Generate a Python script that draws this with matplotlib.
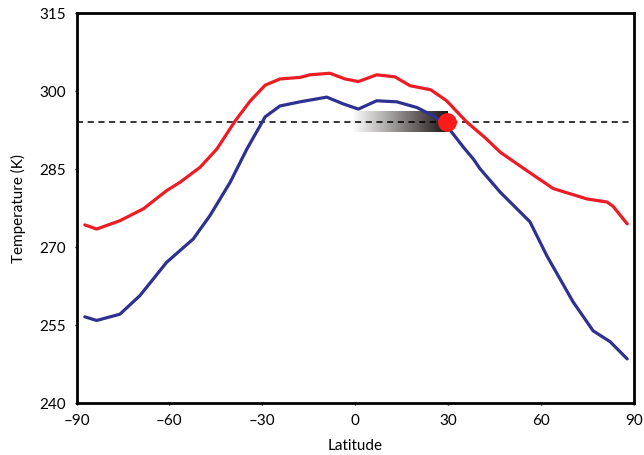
import numpy as np
import matplotlib
matplotlib.use("Agg")
import matplotlib.pyplot as plt
from matplotlib.colors import LinearSegmentedColormap

plt.rcParams['font.family'] = ['Lato', 'DejaVu Sans']

# warm curve (red)
red_lat = [-87.3, -83.5, -76.0, -68.4, -60.9, -56.6, -50.1, -44.7, -38.8, -34.0,
           -29.1, -24.3, -17.8, -14.6, -8.2, -3.3, 1.0, 6.9, 12.8, 17.7, 24.4,
           29.5, 36.0, 41.9, 46.8, 55.5, 63.9, 74.8, 81.3, 83.2, 87.8]
red_temp = [274.2, 273.4, 275.0, 277.3, 280.8, 282.4, 285.3, 288.8, 294.2, 298.0,
            301.1, 302.3, 302.6, 303.1, 303.4, 302.3, 301.8, 303.1, 302.7, 301.0, 300.2,
            298.1, 294.0, 291.0, 288.2, 284.6, 281.2, 279.2, 278.6, 277.8, 274.4]

# cool curve (blue)
blue_lat = [-87.3, -83.5, -76.0, -69.5, -60.9, -52.3, -46.9, -40.4, -35.0, -29.1,
            -24.3, -17.8, -9.2, -3.9, 1.0, 6.9, 13.4, 19.9, 25.2, 29.5, 35.4,
            38.1, 40.3, 46.8, 56.4, 61.9, 66.1, 70.3, 76.8, 82.3, 87.8]
blue_temp = [256.5, 255.8, 257.0, 260.6, 267.0, 271.5, 276.0, 282.4, 288.8, 295.0,
             297.1, 297.9, 298.8, 297.5, 296.5, 298.1, 297.9, 296.8, 295.2, 293.3, 288.8,
             286.9, 285.0, 280.5, 274.8, 268.2, 263.8, 259.4, 253.8, 251.7, 248.4]

threshold = 294.1
dot_lat, dot_temp = 29.7, 294.0
band_lat = [-1.0, 29.7]
band_temp = [292.0, 295.9]

xticks = [-90, -60, -30, 0, 30, 60, 90]
xticklabels = ['\u201390', '\u201360', '\u201330', '0', '30', '60', '90']
yticks = [240, 255, 270, 285, 300, 315]

fig = plt.figure(figsize=(6.44, 4.56), dpi=100)
ax = fig.add_axes([0.1188, 0.1151, 0.8657, 0.8542])

cmap = LinearSegmentedColormap.from_list('band', ['#ffffff', '#1c1313'])
grad = np.linspace(0, 1, 256).reshape(1, -1)
ax.imshow(grad, cmap=cmap, aspect='auto', interpolation='bilinear',
          extent=[band_lat[0], band_lat[1], band_temp[0], band_temp[1]], zorder=1)

ax.axhline(threshold, color='black', linestyle=(0, (4, 3)), linewidth=1.1, zorder=2)
ax.plot(red_lat, red_temp, color='#ed1c24', linewidth=2.3, zorder=3,
        solid_joinstyle='round', solid_capstyle='round')
ax.plot(blue_lat, blue_temp, color='#2e3192', linewidth=2.3, zorder=3,
        solid_joinstyle='round', solid_capstyle='round')
ax.plot([dot_lat], [dot_temp], 'o', color='#ff1a1a', markersize=12.5, zorder=4)

ax.set_xlim(-90, 90)
ax.set_ylim(240, 315)
ax.set_xticks(xticks)
ax.set_xticklabels(xticklabels)
ax.set_yticks(yticks)
ax.tick_params(direction='out', length=1.5, width=1, labelsize=11, pad=6)
for s in ax.spines.values():
    s.set_linewidth(2.0)

ax.set_xlabel('Latitude', fontsize=11, labelpad=8)
ax.set_ylabel('Temperature (K)', fontsize=11, labelpad=10)

fig.savefig('out.png', dpi=100)
